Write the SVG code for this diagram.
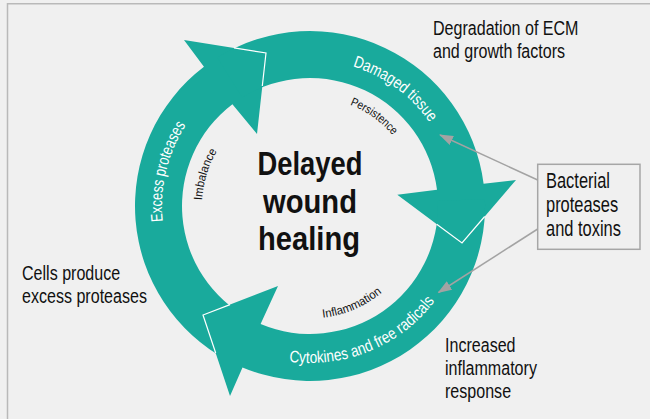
<svg xmlns="http://www.w3.org/2000/svg" width="650" height="419" viewBox="0 0 650 419">
<defs>
<style>
.bg{fill:#f0f0f0}
.frame{fill:none;stroke:#b9b9b9;stroke-width:1.5}
.ring{fill:#19aa9c}
.edge{fill:none;stroke:#ffffff;stroke-width:1.2;stroke-linejoin:miter}
.t{font-family:"Liberation Sans",Arial,sans-serif;fill:#111}
.lbl{font-size:21px}
.blbl{font-size:21.5px}
.ring-lbl{font-size:16.5px;fill:#ffffff}
.in-lbl{font-size:12px;fill:#111}
.title{font-size:33px;font-weight:bold;text-anchor:middle}
.box{fill:#f0f0f0;stroke:#a6a6a6;stroke-width:1.5}
.conn{fill:none;stroke:#a3a3a3;stroke-width:1.5}
</style>
<marker id="ah" viewBox="0 0 14 10" refX="13" refY="5" markerWidth="14" markerHeight="10" markerUnits="userSpaceOnUse" orient="auto">
<path d="M0,0 L14,5 L0,10 z" fill="#a3a3a3"/>
</marker>
<path id="pDamaged" d="M352.7,66.4 A146,146 0 0 1 447.2,156.1"/>
<path id="pExcess" d="M162.8,221.5 A148,148 0 0 1 205.3,101.3"/>
<path id="pCyto" d="M289.2,361.6 A157,157 0 0 0 457.5,259.7"/>
<path id="pPers" d="M350.1,104.7 A109,109 0 0 1 412.4,168.7"/>
<path id="pImb" d="M202.1,200.3 A108,108 0 0 1 227.3,136.6"/>
<path id="pInfl" d="M322.9,317.8 A112.5,112.5 0 0 0 407.4,262.25"/>
</defs>
<rect class="bg" x="0" y="0" width="650" height="419"/>
<path class="frame" d="M7.5,419 V3.7 H650"/>

<g id="cycle">
<g id="arrow-excess-proteases">
<path class="ring" d="M227.8,360.5 A175,175 0 0 1 203.95,66.8 L184,40 L266,53 L257,134 L232.4,104.2 A128,128 0 0 0 249.9,319 Z"/>
<text class="t ring-lbl"><textPath href="#pExcess" textLength="101" lengthAdjust="spacingAndGlyphs">Excess proteases</textPath></text>
<text class="t in-lbl"><textPath href="#pImb" textLength="52" lengthAdjust="spacingAndGlyphs">Imbalance</textPath></text>
</g>
<g id="arrow-damaged-tissue">
<path class="ring" d="M217.3,57.6 A175,175 0 0 1 483.6,183.8 L516,180 L462,243 L397.3,194.8 L437,189.7 A128,128 0 0 0 242.2,97.5 Z"/>
<text class="t ring-lbl"><textPath href="#pDamaged" textLength="97" lengthAdjust="spacingAndGlyphs">Damaged tissue</textPath></text>
<text class="t in-lbl"><textPath href="#pPers" textLength="53" lengthAdjust="spacingAndGlyphs">Persistence</textPath></text>
</g>
<g id="arrow-cytokines">
<path class="ring" d="M484.9,199 A175,175 0 0 1 242.5,367.4 L230,396 L203,315 L278,286 L260.6,324.1 A128,128 0 0 0 437.9,200.9 Z"/>
<text class="t ring-lbl"><textPath href="#pCyto" textLength="165" lengthAdjust="spacingAndGlyphs">Cytokines and free radicals</textPath></text>
<text class="t in-lbl"><textPath href="#pInfl" textLength="65" lengthAdjust="spacingAndGlyphs">Inflammation</textPath></text>
</g>
<g id="overlap-edges">
<polyline class="edge" points="234,47.9 266,53 262.3,86"/>
<polyline class="edge" points="484.7,216.5 462,243 436.7,224.2"/>
<polyline class="edge" points="230,304.6 203,315 215.7,353"/>
</g>
</g>

<g id="center-title">
<text class="t title" x="310" y="175" textLength="105" lengthAdjust="spacingAndGlyphs">Delayed</text>
<text class="t title" x="310" y="212.5" textLength="94" lengthAdjust="spacingAndGlyphs">wound</text>
<text class="t title" x="309" y="249.5" textLength="102" lengthAdjust="spacingAndGlyphs">healing</text>
</g>

<g id="label-degradation" transform="translate(433,0) scale(0.765,1)">
<text class="t lbl" x="0" y="35">Degradation of ECM</text>
<text class="t lbl" x="0" y="58">and growth factors</text>
</g>

<g id="label-cells" transform="translate(22,0) scale(0.765,1)">
<text class="t lbl" x="0" y="280">Cells produce</text>
<text class="t lbl" x="0" y="303">excess proteases</text>
</g>

<g id="label-increased" transform="translate(445,0) scale(0.765,1)">
<text class="t lbl" x="0" y="352">Increased</text>
<text class="t lbl" x="0" y="375">inflammatory</text>
<text class="t lbl" x="0" y="398">response</text>
</g>

<g id="bacterial-box">
<rect class="box" x="537.7" y="164.3" width="102.3" height="85"/>
<g transform="translate(546,0) scale(0.765,1)">
<text class="t blbl" x="0" y="188.3">Bacterial</text>
<text class="t blbl" x="0" y="212">proteases</text>
<text class="t blbl" x="0" y="236">and toxins</text>
</g>
</g>

<g id="connectors">
<line class="conn" x1="537.7" y1="180" x2="440" y2="135" marker-end="url(#ah)"/>
<line class="conn" x1="537.7" y1="229" x2="438.5" y2="292.5" marker-end="url(#ah)"/>
</g>
</svg>
